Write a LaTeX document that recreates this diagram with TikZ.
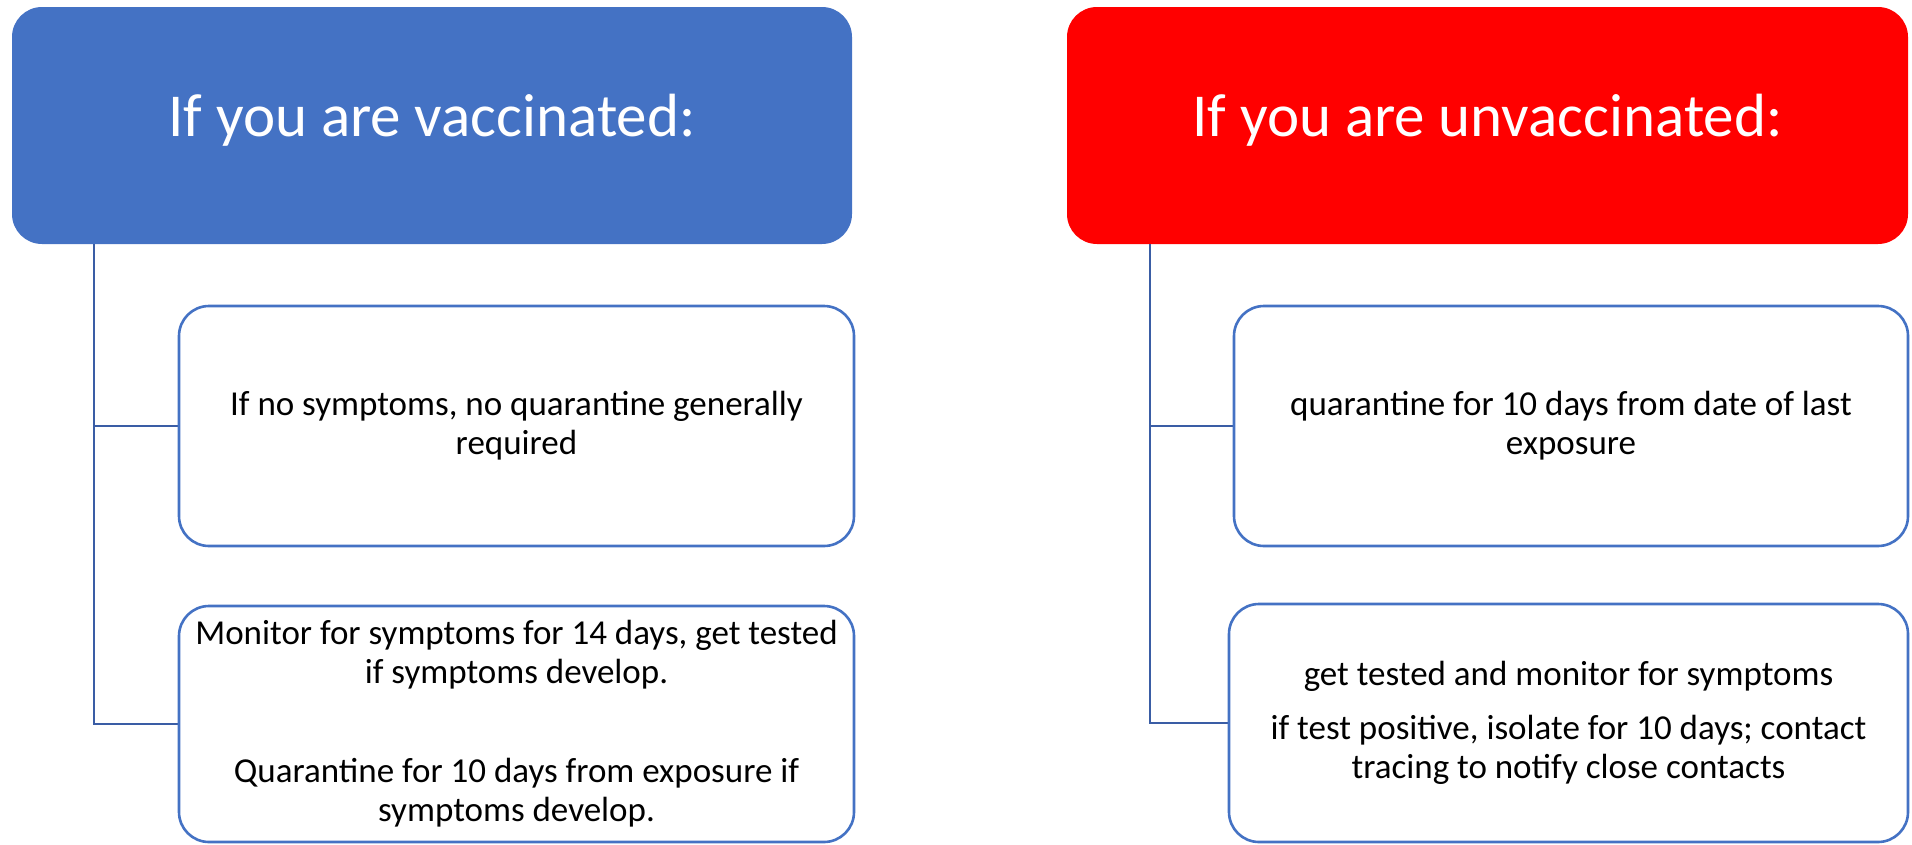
\documentclass[tikz,border=0pt]{standalone}
\usepackage{fontspec}
\setmainfont{Carlito}
\definecolor{vaxblue}{HTML}{4472C4}
\definecolor{unvaxred}{HTML}{FF0000}
\definecolor{linkblue}{HTML}{3A5DA5}
\tikzset{
  headbox/.style={fill=vaxblue, rounded corners=30pt, minimum width=840pt, minimum height=237pt,
    text=white, font=\fontsize{61}{74}\selectfont, text height=46pt, text depth=25pt},
  infobox/.style={draw=vaxblue, line width=2.6pt, fill=white, rounded corners=30pt,
    minimum width=675pt, minimum height=240pt, align=center, font=\fontsize{35}{39}\selectfont},
  link/.style={draw=linkblue, line width=2.6pt}
}
\begin{document}
\begin{tikzpicture}[x=1pt,y=-1pt]
\useasboundingbox (0,0) rectangle (1912,844);

% Drawing heading vax
\node [headbox] (vax) at (432,125.5) {If you are vaccinated:};

% Drawing heading unvax
\node [headbox, fill=unvaxred, minimum width=841pt] (unvax) at (1487.5,125.5) {If you are unvaccinated:};

% Trunk points under the headings
\coordinate (vaxtrunk) at ([xshift=82pt]vax.south west);
\coordinate (unvaxtrunk) at ([xshift=83pt]unvax.south west);

% Drawing links
\draw [link] (vaxtrunk) |- (426,426);
\draw [link] (vaxtrunk) |- (426,724);
\draw [link] (unvaxtrunk) |- (1500,426);
\draw [link] (unvaxtrunk) |- (1500,723);

% Drawing box vax1
\node [infobox] (vax1) at (516.5,426) {If no symptoms, no quarantine generally\\required};

% Drawing box vax2
\node [infobox, minimum height=236pt] (vax2) at (516.5,724)
  {Monitor for symptoms for 14 days, get tested\\if symptoms develop.\\[60pt]Quarantine for 10 days from exposure if\\symptoms develop.};

% Drawing box unvax1
\node [infobox, minimum width=674pt] (unvax1) at (1571,426) {quarantine for 10 days from date of last\\exposure};

% Drawing box unvax2
\node [infobox, minimum width=679pt, minimum height=238pt] (unvax2) at (1568.5,723)
  {get tested and monitor for symptoms\\[15pt]if test positive, isolate for 10 days; contact\\tracing to notify close contacts};
\end{tikzpicture}
\end{document}
